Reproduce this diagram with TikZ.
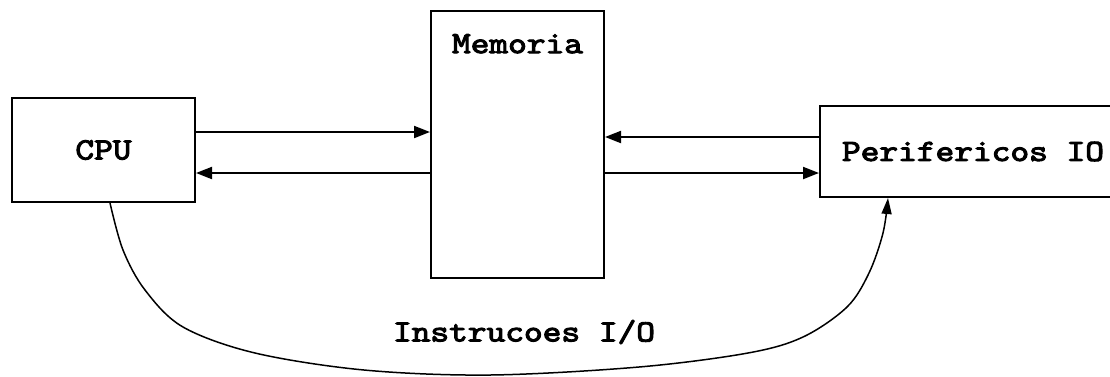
\documentclass[tikz,border=0pt]{standalone}
\usepackage{fontspec}
\usetikzlibrary{arrows.meta}
% heavy slab-serif typewriter lettering
\newfontfamily\courbold{lmmono10-regular.otf}[FakeBold=3]
\newcommand{\wtt}[1]{\scalebox{1.15}[1]{#1}}
\begin{document}
\begin{tikzpicture}[x=1pt,y=-1pt,
  box/.style={draw,line width=2pt,rectangle,inner sep=0pt,
    font=\courbold\fontsize{31}{31}\selectfont},
  lbl/.style={font=\courbold\fontsize{31}{31}\selectfont,inner sep=0pt},
  bus/.style={line width=2pt,-{Triangle[length=16pt,width=12pt]}},
  ctl/.style={line width=1.5pt,-{Triangle[length=16pt,width=10pt]}}]
\clip (0,0) rectangle (1110,376);
\fill[white] (0,0) rectangle (1110,376);
% units
\node[box,minimum width=183pt,minimum height=104pt] (cpu) at (103.5,150) {\wtt{CPU}\hspace{14pt}};
\node[box,minimum width=173pt,minimum height=267pt,
      label={[lbl,anchor=north,yshift=-24pt]north:\wtt{Memoria}}] (mem) at (517.5,144.5) {};
\node[box,minimum width=306pt,minimum height=91pt] (io) at (973,151.5) {\wtt{Perifericos IO}};
% data paths
\draw[bus] (cpu.east |- 0,132) -- (mem.west |- 0,132);
\draw[bus] (mem.west |- 0,173) -- (cpu.east |- 0,173);
\draw[bus] (io.west |- 0,137) -- (mem.east |- 0,137);
\draw[bus] (mem.east |- 0,173) -- (io.west |- 0,173);
% I/O instructions
\draw[ctl] plot[smooth,tension=0.55] coordinates {
  (cpu.south -| 110,0) (123,250) (145,290) (183,327) (255,353) (364,370)
  (490,375) (639,367) (748,353) (803,337) (847,307) (869,273) (883,233)
  (io.south -| 888,0)};
\node[lbl] (instr) at (524,332) {\wtt{Instrucoes I/O}};
\end{tikzpicture}
\end{document}
